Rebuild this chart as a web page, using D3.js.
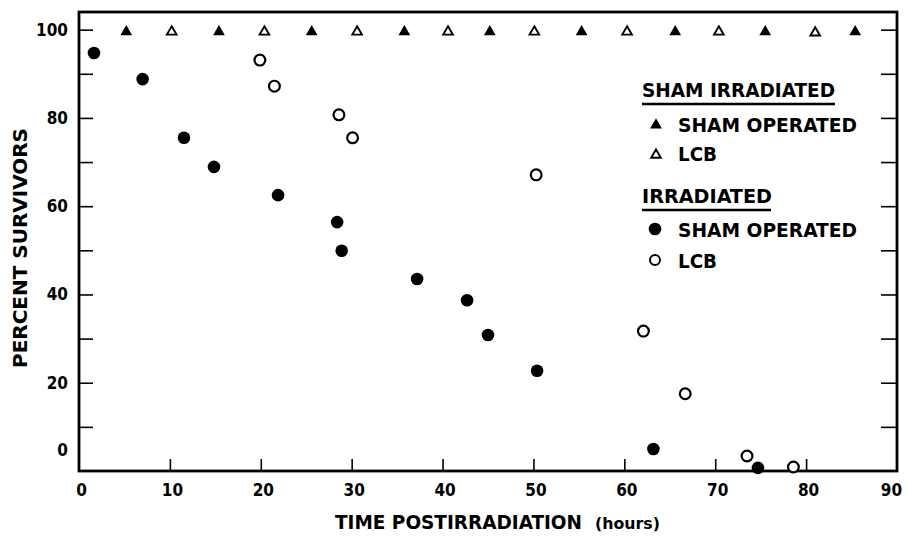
<!DOCTYPE html>
<html><head><meta charset="utf-8">
<script src="https://cdn.jsdelivr.net/npm/d3@7"></script>
<style>
html,body{margin:0;padding:0;background:#fff;}
svg{display:block;background:#fff;}
text{font-family:"DejaVu Sans Condensed","Liberation Sans Narrow","DejaVu Sans",sans-serif;font-weight:bold;fill:#000;}
</style></head><body>
<svg id="chart" width="906" height="537"></svg>
<script>
// ---- data ----
const xTickValues = [0,10,20,30,40,50,60,70,80,90];
const xInnerTicks = [10,20,30,40,50,60,70,80];
const yTickValues = [0,20,40,60,80,100];
const yInnerTicks = [10,20,30,40,50,60,70,80,90,100];

// Sham irradiated, sham operated (filled triangles)
const shamIrrShamOpX = [5.2,15.4,25.6,35.8,45.2,55.3,65.6,75.5,85.4];
const shamIrrShamOpY = [99.5,99.5,99.5,99.5,99.5,99.5,99.5,99.5,99.5];
// Sham irradiated, LCB (open triangles)
const shamIrrLcbX = [10.2,20.4,30.6,40.6,50.1,60.3,70.4,81.0];
const shamIrrLcbY = [99.5,99.5,99.5,99.5,99.5,99.5,99.5,99.3];
// Irradiated, sham operated (filled circles)
const irrShamOpX = [1.65,7.0,11.55,14.85,21.9,28.4,28.9,37.2,42.7,45.0,50.4,63.2,74.7];
const irrShamOpY = [94.7,88.8,75.5,68.9,62.5,56.4,49.9,43.5,38.7,30.8,22.7,5.0,0.7];
// Irradiated, LCB (open circles)
const irrLcbX = [19.9,21.5,28.6,30.1,50.3,62.1,66.7,73.5,78.6];
const irrLcbY = [93.1,87.2,80.7,75.5,67.1,31.7,17.5,3.4,0.9];

const legendGroups = ["SHAM IRRADIATED","IRRADIATED"];
const legendItems = ["SHAM OPERATED","LCB"];
const xTitle = "TIME POSTIRRADIATION";
const xTitleUnit = "(hours)";
const yTitle = "PERCENT SURVIVORS";

// ---- chart ----
const svg = d3.select("#chart");
const x = d3.scaleLinear().domain([0,90]).range([79,897]);
const y = d3.scaleLinear().domain([0,104]).range([471,12]);

const toPts = (xs, ys) => xs.map((v,i)=>({x:v,y:ys[i]}));

// inner ticks bottom
svg.append("g").attr("transform",`translate(0,${y(0)})`)
  .call(d3.axisBottom(x).tickValues(xInnerTicks).tickSize(-12).tickFormat(""))
  .call(g=>g.select(".domain").remove())
  .call(g=>g.selectAll("line").attr("stroke","#000").attr("stroke-width",1.6));
// bottom labels
svg.append("g").attr("transform",`translate(0,${y(0)})`)
  .call(d3.axisBottom(x).tickValues(xTickValues).tickSize(0).tickPadding(13).tickFormat(d3.format("d")))
  .call(g=>g.select(".domain").remove())
  .call(g=>g.selectAll("text").attr("font-size",17).attr("font-family",null)
     .attr("dx",d=>d===90?-6:2));

// left ticks
svg.append("g").attr("transform",`translate(${x(0)},0)`)
  .call(d3.axisLeft(y).tickValues(yInnerTicks).tickSize(-14).tickFormat(""))
  .call(g=>g.select(".domain").remove())
  .call(g=>g.selectAll("line").attr("stroke","#000").attr("stroke-width",1.6));
// left labels
svg.append("g").attr("transform",`translate(${x(0)},0)`)
  .call(d3.axisLeft(y).tickValues(yTickValues).tickSize(0).tickPadding(11).tickFormat(d3.format("d")))
  .call(g=>g.select(".domain").remove())
  .call(g=>g.selectAll("text").attr("font-size",17).attr("font-family",null)
     .attr("transform",d=>d===0?"translate(0,-21)":null));
// right ticks
svg.append("g").attr("transform",`translate(${x(90)},0)`)
  .call(d3.axisRight(y).tickValues(yInnerTicks).tickSize(-16).tickFormat(""))
  .call(g=>g.select(".domain").remove())
  .call(g=>g.selectAll("line").attr("stroke","#000").attr("stroke-width",1.6));

// frame
svg.append("rect")
  .attr("x",x(0)).attr("y",y(104)).attr("width",x(90)-x(0)).attr("height",y(0)-y(104))
  .attr("fill","none").attr("stroke","#000").attr("stroke-width",2.8);

// markers
const triFilled = d3.symbol(d3.symbolTriangle, 60);
const triOpen = d3.symbol(d3.symbolTriangle, 40);

svg.append("g").selectAll("path").data(toPts(shamIrrShamOpX, shamIrrShamOpY)).join("path")
  .attr("d",triFilled).attr("transform",d=>`translate(${x(d.x)},${y(d.y)})`).attr("fill","#000");
svg.append("g").selectAll("path").data(toPts(shamIrrLcbX, shamIrrLcbY)).join("path")
  .attr("d",triOpen).attr("transform",d=>`translate(${x(d.x)},${y(d.y)})`)
  .attr("fill","#fff").attr("stroke","#000").attr("stroke-width",1.9);
svg.append("g").selectAll("circle").data(toPts(irrShamOpX, irrShamOpY)).join("circle")
  .attr("cx",d=>x(d.x)).attr("cy",d=>y(d.y)).attr("r",6.3).attr("fill","#000");
svg.append("g").selectAll("circle").data(toPts(irrLcbX, irrLcbY)).join("circle")
  .attr("cx",d=>x(d.x)).attr("cy",d=>y(d.y)).attr("r",5.4)
  .attr("fill","#fff").attr("stroke","#000").attr("stroke-width",2.2);

// axis titles
svg.append("text").attr("x",335).attr("y",529).attr("font-size",19)
  .attr("textLength",247).attr("lengthAdjust","spacingAndGlyphs").text(xTitle);
svg.append("text").attr("x",595).attr("y",529).attr("font-size",16)
  .attr("textLength",65).attr("lengthAdjust","spacingAndGlyphs").text(xTitleUnit);
svg.append("text").attr("transform","translate(27,368) rotate(-90)").attr("font-size",19)
  .attr("textLength",240).attr("lengthAdjust","spacingAndGlyphs").text(yTitle);

// legend
const groupPos = [
  {tx:642, ty:97, tl:193, uy:104, ux2:835, rows:[132,161], marks:[125,155]},
  {tx:642, ty:203, tl:130, uy:210, ux2:771, rows:[237,268], marks:[229,260]}
];
const itemLens = [179, 39];
legendGroups.forEach((name,gi)=>{
  const p = groupPos[gi];
  svg.append("text").attr("x",p.tx).attr("y",p.ty).attr("font-size",19)
    .attr("textLength",p.tl).attr("lengthAdjust","spacingAndGlyphs").text(name);
  svg.append("line").attr("x1",p.tx).attr("x2",p.ux2).attr("y1",p.uy).attr("y2",p.uy)
    .attr("stroke","#000").attr("stroke-width",2.4);
  legendItems.forEach((item,ii)=>{
    svg.append("text").attr("x",678).attr("y",p.rows[ii]).attr("font-size",20)
      .attr("textLength",itemLens[ii]).attr("lengthAdjust","spacingAndGlyphs").text(item);
    const mx = 656, my = p.marks[ii];
    if (gi===0) {
      svg.append("path").attr("d", ii===0?triFilled:triOpen)
        .attr("transform",`translate(${mx},${my})`)
        .attr("fill", ii===0?"#000":"#fff").attr("stroke", ii===0?null:"#000").attr("stroke-width",1.9);
    } else {
      svg.append("circle").attr("cx",mx-1).attr("cy",my).attr("r", ii===0?6.3:5)
        .attr("fill", ii===0?"#000":"#fff").attr("stroke", ii===0?null:"#000").attr("stroke-width",2);
    }
  });
});
</script>
</body></html>
